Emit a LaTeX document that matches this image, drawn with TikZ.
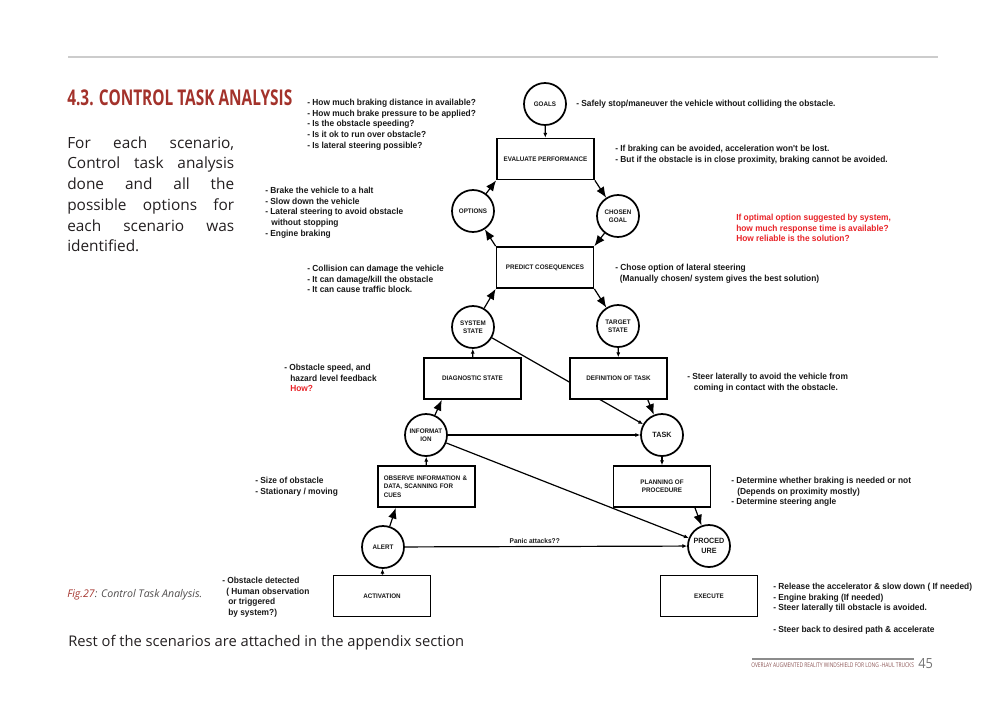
\documentclass[tikz,border=0pt]{standalone}
\usepackage{fontspec}
\usepackage{graphicx}
\setmainfont{Liberation Sans}
\newfontfamily\annfont[FakeStretch=0.95]{Liberation Sans Bold}
\newfontfamily\bodyfont{Open Sans}
\newfontfamily\titlefont{Open Sans Bold}
\usetikzlibrary{arrows.meta,backgrounds}
\definecolor{titlered}{RGB}{163,50,43}
\definecolor{notered}{RGB}{232,35,40}
\definecolor{footred}{RGB}{140,85,85}
\definecolor{bodygray}{RGB}{35,31,32}
\definecolor{anngray}{RGB}{25,25,25}
\begin{document}
\begin{tikzpicture}[x=0.75pt,y=-0.75pt,
  bx/.style={draw, line width=1.3pt, fill=white, minimum width=72.75pt, minimum height=30.75pt, inner sep=1pt, align=center, text=anngray, font=\annfont\fontsize{4.95pt}{6.2pt}\selectfont},
  cr/.style={draw, circle, line width=1.3pt, fill=white, minimum size=31.5pt, inner sep=0pt, align=center, text=anngray, font=\annfont\fontsize{4.95pt}{6.2pt}\selectfont},
  con/.style={line width=0.9pt},
  big/.style={con, -{Latex[length=8pt,width=6.5pt]}},
  small/.style={con, -{Latex[length=3.5pt,width=3pt]}},
  ann/.style={anchor=north west, inner sep=0pt, align=left, text=anngray, font=\annfont\fontsize{6.6pt}{8pt}\selectfont},
  body/.style={anchor=base west, inner sep=0pt, text=bodygray, font=\bodyfont\fontsize{11.55pt}{15.5pt}\selectfont}
]
\useasboundingbox (0,0) rectangle (1000,707);
% header rule
\draw[line width=1.1pt, black!20] (68,57) coordinate (hl) -- (938,57) coordinate (hr);
% title
\node[anchor=base west, inner sep=0pt, text=titlered] (title) at (67,105) {\resizebox{168.75pt}{11.8pt}{\titlefont 4.3. CONTROL TASK ANALYSIS}};
% body text
\node[body] (p1) at (67,148) {\makebox[125.25pt][s]{For each scenario,}};
\node[body] (p2) at (67,168) {\makebox[125.25pt][s]{Control task analysis}};
\node[body] (p3) at (67,189) {\makebox[125.25pt][s]{done and all the}};
\node[body] (p4) at (67,210) {\makebox[125.25pt][s]{possible options for}};
\node[body] (p5) at (67,231) {\makebox[125.25pt][s]{each scenario was}};
\node[body] (p6) at (67,251) {identified.};
\node[anchor=base west, inner sep=0pt] (cap) at (67,597) {\resizebox{101.25pt}{!}{\bodyfont\itshape\textcolor{titlered}{Fig.27}\textcolor{bodygray!80}{: Control Task Analysis.}}};
\node[anchor=base west, inner sep=0pt, text=bodygray] (rest) at (68,646) {\resizebox{297pt}{!}{\bodyfont Rest of the scenarios are attached in the appendix section}};
% footer
\draw[line width=0.9pt, black!45] (752,659) coordinate (fl) -- (914,659) coordinate (fr);
\node[anchor=base west, inner sep=0pt, text=footred] (foot) at (751,667.5) {\resizebox{122pt}{3.5pt}{\bodyfont OVERLAY AUGMENTED REALITY WINDSHIELD FOR LONG -HAUL TRUCKS}};
\node[anchor=base west, inner sep=0pt, text=black!55] (pg) at (918,668) {\resizebox{11pt}{7.5pt}{\bodyfont 45}};

% nodes
\node[cr] (goals) at (545,104) {GOALS};
\node[bx] (eval) at (545.5,159) {EVALUATE PERFORMANCE};
\node[cr] (options) at (473,211) {OPTIONS};
\node[cr] (chosen) at (618,216) {CHOSEN\\GOAL};
\node[bx] (predict) at (545,267.5) {PREDICT COSEQUENCES};
\node[cr] (system) at (473,327) {SYSTEM\\STATE};
\node[cr] (target) at (618,326) {TARGET\\STATE};
\node[bx] (diag) at (472.5,378.5) {DIAGNOSTIC STATE};
\node[bx] (def) at (618.5,378.5) {DEFINITION OF TASK};
\node[cr] (info) at (426,435) {INFORMAT\\ION};
\node[cr, font=\annfont\fontsize{5.7pt}{7pt}\selectfont] (task) at (662,435) {TASK};
\node[bx, align=left, text width=64pt, inner sep=4.4pt] (observe) at (426.5,486.5) {OBSERVE INFORMATION \&\\DATA, SCANNING FOR\\CUES};
\node[bx] (planning) at (662,486.5) {PLANNING OF\\PROCEDURE};
\node[cr] (alert) at (383,547) {ALERT};
\node[cr, font=\annfont\fontsize{5.7pt}{7pt}\selectfont] (proc) at (709,546) {PROCED\\URE};
\node[bx] (activation) at (382,596) {ACTIVATION};
\node[bx] (execute) at (709,596) {EXECUTE};

% connector passing behind the definition box
\begin{pgfonlayer}{background}
\draw[small] (system) -- (task);
\end{pgfonlayer}

% connectors
\draw[small] (goals) -- (eval);
\draw[big] (eval.south east) -- (chosen);
\draw[big] (chosen) -- (predict.north east);
\draw[big] (predict.north west) -- (options);
\draw[big] (options) -- (eval.south west);
\draw[big] (system) -- (predict.south west);
\draw[big] (predict.south east) -- (target);
\draw[small] (target) -- (def);
\draw[small] (diag) -- (system);
\draw[big] ([xshift=22pt]def.south) -- (task);
\draw[big] (info) -- ([xshift=14pt]diag.south west);
\draw[small] (info) -- (task);
\draw[small] (info) -- (proc);
\draw[small] (observe) -- (info);
\draw[big] (alert) -- ([xshift=14pt]observe.south west);
\draw[small] (alert) -- node[above=1.5pt, inner sep=0pt, text=anngray, font=\annfont\fontsize{5.2pt}{6pt}\selectfont, pos=0.46] (panic) {Panic attacks??} (proc);
\draw[small] (activation) -- (alert);
\draw[small] (task) -- (planning);
\draw[big] ([xshift=24.75pt]planning.south) -- (proc);

% annotations
\node[ann] (a1) at (307,98.8) {- How much braking distance in available?\\- How much brake pressure to be applied?\\- Is the obstacle speeding?\\- Is it ok to run over obstacle?\\- Is lateral steering possible?};
\node[ann] (a2) at (265,186.8) {- Brake the vehicle to a halt\\- Slow down the vehicle\\- Lateral steering to avoid obstacle\\\hspace*{4.5pt}without stopping\\- Engine braking};
\node[ann] (a3) at (576,99.8) {- Safely stop/maneuver the vehicle without colliding the obstacle.};
\node[ann] (a4) at (615,144.8) {- If braking can be avoided, acceleration won't be lost.\\- But if the obstacle is in close proximity, braking cannot be avoided.};
\node[ann, text=notered] (a5) at (736,213.8) {If optimal option suggested by system,\\how much response time is available?\\How reliable is the solution?};
\node[ann] (a6) at (307,264.8) {- Collision can damage the vehicle\\- It can damage/kill the obstacle\\- It can cause traffic block.};
\node[ann] (a7) at (615,263.8) {- Chose option of lateral steering\\\hspace*{3.5pt}(Manually chosen/ system gives the best solution)};
\node[ann] (a8) at (284,363.8) {- Obstacle speed, and\\\hspace*{4.5pt}hazard level feedback\\\hspace*{4.5pt}\textcolor{notered}{How?}};
\node[ann] (a9) at (687,372.8) {- Steer laterally to avoid the vehicle from\\\hspace*{5pt}coming in contact with the obstacle.};
\node[ann] (a10) at (255,476.8) {- Size of obstacle\\- Stationary / moving};
\node[ann] (a11) at (731,476.8) {- Determine whether braking is needed or not\\\hspace*{4.5pt}(Depends on proximity mostly)\\- Determine steering angle};
\node[ann] (a12) at (222,576.8) {- Obstacle detected\\\hspace*{3pt}( Human observation\\\hspace*{4.5pt}or triggered\\\hspace*{4.5pt}by system?)};
\node[ann] (a13) at (773,582.8) {- Release the accelerator \& slow down ( If needed)\\- Engine braking (If needed)\\- Steer laterally till obstacle is avoided.\\[8pt]- Steer back to desired path \& accelerate};
\end{tikzpicture}
\end{document}
